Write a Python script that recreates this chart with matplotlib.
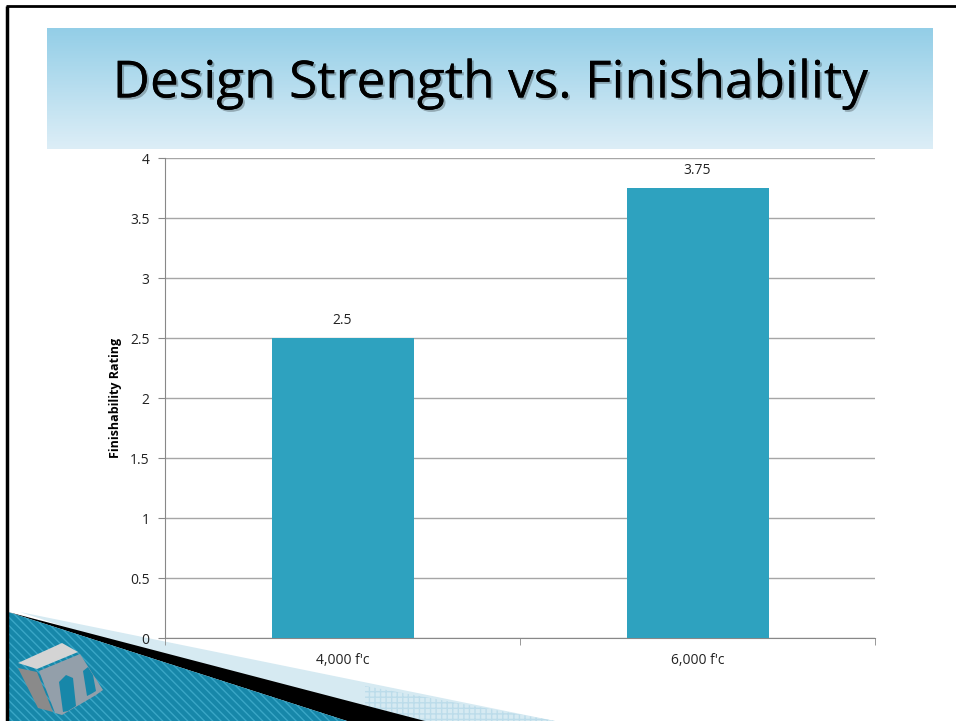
import matplotlib
matplotlib.use('Agg')
import matplotlib.pyplot as plt
import matplotlib.patches as mpatches
import matplotlib.patheffects as pe
import numpy as np

# Chart data
categories = ["4,000 f'c", "6,000 f'c"]
ratings = [2.5, 3.75]
rating_labels = ["2.5", "3.75"]
y_ticks = [0, 0.5, 1, 1.5, 2, 2.5, 3, 3.5, 4]
y_tick_labels = ["0", "0.5", "1", "1.5", "2", "2.5", "3", "3.5", "4"]

W, H = 956, 721
fig = plt.figure(figsize=(W / 100, H / 100), dpi=100)
fig.patch.set_facecolor('white')

# background layer in pixel coordinates (y down)
bg = fig.add_axes([0, 0, 1, 1], zorder=0)
bg.set_xlim(0, W)
bg.set_ylim(H, 0)
bg.axis('off')

# title banner with vertical gradient
grad = np.linspace(0, 1, 256).reshape(-1, 1)
top_c = np.array([0x93, 0xCE, 0xE7]) / 255
bot_c = np.array([0xDD, 0xEE, 0xF7]) / 255
img = top_c + (bot_c - top_c) * grad[..., None]
bg.imshow(img, extent=[47, 933, 149, 28], aspect='auto', zorder=1)

# slide frame lines
bg.plot([6, W], [6, 6], color='black', lw=2, solid_capstyle='butt', zorder=5)
bg.plot([7, 7], [6, H], color='black', lw=2.5, solid_capstyle='butt', zorder=5)

# bottom-left ribbon decoration
light = mpatches.Polygon([(20, 612), (555, 721), (350, 721)], closed=True,
                         facecolor='#D6EAF2', edgecolor='none', zorder=2)
bg.add_patch(light)
hatch = mpatches.Polygon([(365, 686), (555, 721), (365, 721)], closed=True,
                         facecolor='#D6EAF2', edgecolor='#BCDCEA', hatch='+++',
                         lw=0, zorder=2)
bg.add_patch(hatch)
black = mpatches.Polygon([(8, 612), (425, 721), (347, 721)], closed=True,
                         facecolor='black', edgecolor='none', zorder=3)
bg.add_patch(black)
blue = mpatches.Polygon([(8, 612), (347, 721), (8, 721)], closed=True,
                        facecolor='#1787A9', edgecolor='#3AA6C6', hatch='\\\\\\\\',
                        lw=0, zorder=3)
bg.add_patch(blue)

# logo block
logo_blue = '#1787A9'
bg.add_patch(mpatches.Polygon([(18, 663), (62, 643), (78, 652), (37, 669)],
                              closed=True, facecolor='#D4D4D4', edgecolor='none', zorder=4))
bg.add_patch(mpatches.Polygon([(18, 668), (37, 672), (53, 712), (38, 708)],
                              closed=True, facecolor='#8A8A8A', edgecolor='none', zorder=4))
bg.add_patch(mpatches.Polygon([(39, 671), (80, 654), (103, 690), (96, 695), (62, 715), (55, 713)],
                              closed=True, facecolor='#939FAA', edgecolor='none', zorder=4))
bg.add_patch(mpatches.Polygon([(59, 682), (66, 675), (73, 678), (76, 706), (68, 711), (63, 712)],
                              closed=True, facecolor=logo_blue, edgecolor='none', zorder=4))
bg.add_patch(mpatches.Polygon([(83, 671), (88, 667), (93, 675), (96, 691), (91, 694), (87, 696)],
                              closed=True, facecolor=logo_blue, edgecolor='none', zorder=4))

# title
bg.text(490, 84, 'Design Strength vs. Finishability', fontsize=37,
        family=['Open Sans', 'DejaVu Sans'], ha='center', va='center',
        color='black', zorder=6,
        path_effects=[pe.withSimplePatchShadow(offset=(1.5, -1.5), alpha=0.25), pe.Normal()])

# chart
ax = fig.add_axes([165 / W, 1 - 638 / H, 710 / W, 480 / H], zorder=2)
ax.patch.set_alpha(0)
x = np.arange(len(categories))
ax.bar(x, ratings, width=0.4, color='#2EA2BF', zorder=3)
for xi, v, lab in zip(x, ratings, rating_labels):
    ax.text(xi, v + 0.08, lab, ha='center', va='bottom', fontsize=10,
            family='Open Sans', color='#222222')

ax.set_xlim(-0.5, 1.5)
ax.set_ylim(0, 4)
ax.set_yticks(y_ticks)
ax.set_yticklabels(y_tick_labels, family='Open Sans', fontsize=10, color='#222222')
ax.set_xticks(x)
ax.set_xticklabels(categories, family='Open Sans', fontsize=10, color='#222222')
ax.set_xticks([-0.5, 0.5, 1.5], minor=True)
ax.tick_params(axis='x', which='major', length=0, pad=11)
ax.tick_params(axis='x', which='minor', length=5, color='#888888')
ax.tick_params(axis='y', length=5, color='#888888', pad=6)
ax.yaxis.grid(True, color='#A6A6A6', lw=1)
ax.set_axisbelow(True)
for s in ['top', 'right']:
    ax.spines[s].set_visible(False)
for s in ['left', 'bottom']:
    ax.spines[s].set_color('#888888')
ax.set_ylabel('Finishability Rating', fontsize=9, fontweight='bold',
              family='Open Sans', labelpad=6)

fig.savefig('out.png', dpi=100)
